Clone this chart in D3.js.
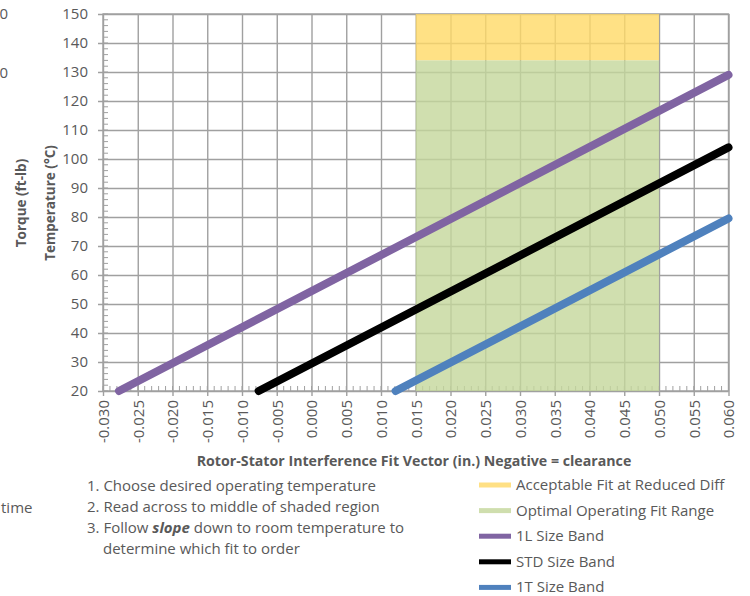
<!DOCTYPE html>
<html><head><meta charset="utf-8">
<script src="https://cdn.jsdelivr.net/npm/d3@7"></script>
<style>
body{margin:0;background:#fff;}
svg{font-family:"Open Sans",Lato,sans-serif;}
</style></head>
<body><svg id="chart" width="750" height="596"></svg>
<script>
// ---- data ----
const xTickValues = [-0.030,-0.025,-0.020,-0.015,-0.010,-0.005,0.000,0.005,0.010,0.015,0.020,0.025,0.030,0.035,0.040,0.045,0.050,0.055,0.060];
const yTickValues = [20,30,40,50,60,70,80,90,100,110,120,130,140,150];
const optimalFit = [0.015, 0.050];        // x range of shaded region
const optimalTemp = [20, 134];            // green
const acceptableTemp = [134, 150];        // yellow
const band1L = [[-0.0277, 20], [0.060, 129]];
const bandSTD = [[-0.0076, 20], [0.060, 104]];
const band1T = [[0.0121, 20], [0.060, 79.5]];
const legendLabels = ["Acceptable Fit at Reduced Diff","Optimal Operating Fit Range","1L Size Band","STD Size Band","1T Size Band"];
const legendColors = ["#FFD966","#C4D79B","#8064A2","#000000","#4F81BD"];
const instructions = ["1. Choose desired operating temperature","2. Read across to middle of shaded region","3. Follow |slope| down to room temperature to","determine which fit to order"];

// ---- layout ----
const L = 103, R = 728.5, T = 14, B = 391;
const FS = 15;
const svg = d3.select("#chart");
const x = d3.scaleLinear().domain([-0.030, 0.060]).range([L, R]);
const y = d3.scaleLinear().domain([20, 150]).range([B, T]);
const grid = "#a0a0a0", txt = "#595959";

// minor ticks
const g = svg.append("g");
g.selectAll(".xm").data(d3.range(-30, 61, 1).map(v => v / 1000)).enter().append("line")
  .attr("x1", d => x(d)).attr("x2", d => x(d)).attr("y1", B).attr("y2", B - 5)
  .attr("stroke", grid).attr("stroke-width", 1);
g.selectAll(".ym").data(d3.range(20, 151, 2)).enter().append("line")
  .attr("x1", L).attr("x2", L + 5).attr("y1", d => y(d)).attr("y2", d => y(d))
  .attr("stroke", grid).attr("stroke-width", 1);

// gridlines via axes
const xAxis = d3.axisBottom(x).tickValues(xTickValues).tickSize(-(B - T)).tickSizeOuter(0)
  .tickFormat(d => d3.format(".3f")(d).replace("\u2212", "-"));
const xg = svg.append("g").attr("transform", `translate(0,${B})`).call(xAxis);
xg.select(".domain").remove();
xg.selectAll(".tick line").attr("stroke", grid).attr("stroke-width", 1.4).attr("y1", 5);
xg.selectAll(".tick text").attr("fill", txt).attr("font-size", FS).attr("font-family", "'Open Sans'")
  .attr("transform", "rotate(-90)").attr("text-anchor", "end").attr("x", -9).attr("y", 0).attr("dy", "0.35em");

const yAxis = d3.axisLeft(y).tickValues(yTickValues).tickSize(-(R - L)).tickSizeOuter(0);
const yg = svg.append("g").attr("transform", `translate(${L},0)`).call(yAxis);
yg.select(".domain").remove();
yg.selectAll(".tick line").attr("stroke", grid).attr("stroke-width", 1.4).attr("x1", -5);
yg.selectAll(".tick text").attr("fill", txt).attr("font-size", FS).attr("font-family", "'Open Sans'").attr("x", -15);

// border
svg.append("rect").attr("x", L).attr("y", T).attr("width", R - L).attr("height", B - T)
  .attr("fill", "none").attr("stroke", grid).attr("stroke-width", 1.4);

// shaded regions (semi-transparent over grid)
svg.append("rect").attr("x", x(optimalFit[0])).attr("width", x(optimalFit[1]) - x(optimalFit[0]))
  .attr("y", y(acceptableTemp[1])).attr("height", y(acceptableTemp[0]) - y(acceptableTemp[1]))
  .attr("fill", legendColors[0]).attr("opacity", 0.8);
svg.append("rect").attr("x", x(optimalFit[0])).attr("width", x(optimalFit[1]) - x(optimalFit[0]))
  .attr("y", y(optimalTemp[1])).attr("height", y(optimalTemp[0]) - y(optimalTemp[1]))
  .attr("fill", legendColors[1]).attr("opacity", 0.8);

// size bands
const line = d3.line().x(d => x(d[0])).y(d => y(d[1]));
[[band1L, legendColors[2]], [bandSTD, legendColors[3]], [band1T, legendColors[4]]].forEach(([pts, c]) => {
  svg.append("path").datum(pts).attr("d", line).attr("fill", "none")
    .attr("stroke", c).attr("stroke-width", 8).attr("stroke-linecap", "round");
});

// axis titles
svg.append("text").attr("transform", "translate(26,203) rotate(-90)").attr("text-anchor", "middle")
  .attr("font-weight", "bold").attr("font-size", 13.5).attr("fill", txt).text("Torque (ft-lb)");
svg.append("text").attr("transform", "translate(55,203) rotate(-90)").attr("text-anchor", "middle")
  .attr("font-weight", "bold").attr("font-size", 13.5).attr("fill", txt).text("Temperature (°C)");
svg.append("text").attr("x", 414).attr("y", 466).attr("text-anchor", "middle")
  .attr("font-weight", "bold").attr("font-size", 14.2).attr("fill", txt)
  .text("Rotor-Stator Interference Fit Vector (in.) Negative = clearance");

// cut-off text from neighbouring chart
svg.append("text").attr("x", 8).attr("y", 19).attr("text-anchor", "end").attr("font-size", FS).attr("fill", txt).text("0");
svg.append("text").attr("x", 8).attr("y", 78).attr("text-anchor", "end").attr("font-size", FS).attr("fill", txt).text("0");
svg.append("text").attr("x", 1).attr("y", 513).attr("text-anchor", "start").attr("font-size", FS).attr("fill", txt).text("time");

// instructions
instructions.forEach((s, i) => {
  const t = svg.append("text").attr("x", i === 3 ? 103 : 87).attr("y", 491 + i * 21)
    .attr("font-size", FS).attr("fill", txt);
  s.split("|").forEach((part, j) => {
    const ts = t.append("tspan").text(part);
    if (j === 1) ts.attr("font-weight", "bold").attr("font-style", "italic");
  });
});

// legend
legendLabels.forEach((s, i) => {
  const yy = 485 + i * 25.6;
  svg.append("line").attr("x1", 479).attr("x2", 511).attr("y1", yy).attr("y2", yy)
    .attr("stroke", legendColors[i]).attr("stroke-width", 5).attr("opacity", i < 2 ? 0.8 : 1);
  svg.append("text").attr("x", 516).attr("y", yy + 5).attr("font-size", FS).attr("fill", txt).text(s);
});
</script></body></html>
